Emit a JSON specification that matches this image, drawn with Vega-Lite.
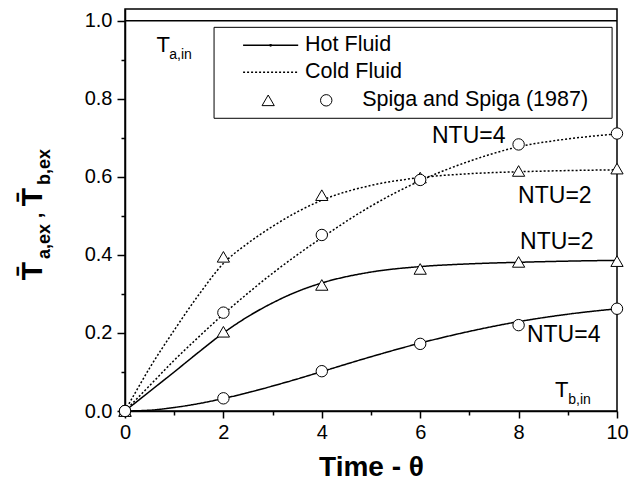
{
  "$schema": "https://vega.github.io/schema/vega-lite/v6.json",
  "autosize": {"type": "none"},
  "padding": {"left": 125, "top": 9, "right": 14, "bottom": 82},
  "width": 492,
  "height": 402,
  "background": "white",
  "data": {"values": [{}]},
  "config": {
    "font": "Liberation Sans",
    "view": {"stroke": "black", "strokeWidth": 1.5},
    "axis": {"grid": false, "labelFont": "Liberation Sans", "titleFont": "Liberation Sans", "labelColor": "black", "titleColor": "black", "domainColor": "black", "tickColor": "black", "domainWidth": 1.5, "tickWidth": 1.5}
  },
  "datasets": {
    "curves": [
      {"x": 0, "y": 0, "fluid": "Hot", "ntu": 2},
      {"x": 0.5, "y": 0.05, "fluid": "Hot", "ntu": 2},
      {"x": 1, "y": 0.1, "fluid": "Hot", "ntu": 2},
      {"x": 1.5, "y": 0.151, "fluid": "Hot", "ntu": 2},
      {"x": 2, "y": 0.2, "fluid": "Hot", "ntu": 2},
      {"x": 2.5, "y": 0.242, "fluid": "Hot", "ntu": 2},
      {"x": 3, "y": 0.277, "fluid": "Hot", "ntu": 2},
      {"x": 3.5, "y": 0.306, "fluid": "Hot", "ntu": 2},
      {"x": 4, "y": 0.328, "fluid": "Hot", "ntu": 2},
      {"x": 5, "y": 0.356, "fluid": "Hot", "ntu": 2},
      {"x": 6, "y": 0.37, "fluid": "Hot", "ntu": 2},
      {"x": 7, "y": 0.377, "fluid": "Hot", "ntu": 2},
      {"x": 8, "y": 0.381, "fluid": "Hot", "ntu": 2},
      {"x": 9, "y": 0.384, "fluid": "Hot", "ntu": 2},
      {"x": 10, "y": 0.386, "fluid": "Hot", "ntu": 2},
      {"x": 0, "y": 0, "fluid": "Hot", "ntu": 4},
      {"x": 0.5, "y": 0.002, "fluid": "Hot", "ntu": 4},
      {"x": 1, "y": 0.009, "fluid": "Hot", "ntu": 4},
      {"x": 1.5, "y": 0.019, "fluid": "Hot", "ntu": 4},
      {"x": 2, "y": 0.032, "fluid": "Hot", "ntu": 4},
      {"x": 2.5, "y": 0.047, "fluid": "Hot", "ntu": 4},
      {"x": 3, "y": 0.064, "fluid": "Hot", "ntu": 4},
      {"x": 3.5, "y": 0.082, "fluid": "Hot", "ntu": 4},
      {"x": 4, "y": 0.101, "fluid": "Hot", "ntu": 4},
      {"x": 5, "y": 0.139, "fluid": "Hot", "ntu": 4},
      {"x": 6, "y": 0.174, "fluid": "Hot", "ntu": 4},
      {"x": 7, "y": 0.204, "fluid": "Hot", "ntu": 4},
      {"x": 8, "y": 0.229, "fluid": "Hot", "ntu": 4},
      {"x": 9, "y": 0.248, "fluid": "Hot", "ntu": 4},
      {"x": 10, "y": 0.262, "fluid": "Hot", "ntu": 4},
      {"x": 0, "y": 0, "fluid": "Cold", "ntu": 2},
      {"x": 0.5, "y": 0.11, "fluid": "Cold", "ntu": 2},
      {"x": 1, "y": 0.207, "fluid": "Cold", "ntu": 2},
      {"x": 1.5, "y": 0.298, "fluid": "Cold", "ntu": 2},
      {"x": 2, "y": 0.378, "fluid": "Cold", "ntu": 2},
      {"x": 2.5, "y": 0.43, "fluid": "Cold", "ntu": 2},
      {"x": 3, "y": 0.473, "fluid": "Cold", "ntu": 2},
      {"x": 3.5, "y": 0.51, "fluid": "Cold", "ntu": 2},
      {"x": 4, "y": 0.54, "fluid": "Cold", "ntu": 2},
      {"x": 5, "y": 0.578, "fluid": "Cold", "ntu": 2},
      {"x": 6, "y": 0.598, "fluid": "Cold", "ntu": 2},
      {"x": 7, "y": 0.608, "fluid": "Cold", "ntu": 2},
      {"x": 8, "y": 0.613, "fluid": "Cold", "ntu": 2},
      {"x": 9, "y": 0.616, "fluid": "Cold", "ntu": 2},
      {"x": 10, "y": 0.618, "fluid": "Cold", "ntu": 2},
      {"x": 0, "y": 0, "fluid": "Cold", "ntu": 4},
      {"x": 0.5, "y": 0.065, "fluid": "Cold", "ntu": 4},
      {"x": 1, "y": 0.13, "fluid": "Cold", "ntu": 4},
      {"x": 1.5, "y": 0.19, "fluid": "Cold", "ntu": 4},
      {"x": 2, "y": 0.248, "fluid": "Cold", "ntu": 4},
      {"x": 2.5, "y": 0.302, "fluid": "Cold", "ntu": 4},
      {"x": 3, "y": 0.353, "fluid": "Cold", "ntu": 4},
      {"x": 3.5, "y": 0.4, "fluid": "Cold", "ntu": 4},
      {"x": 4, "y": 0.444, "fluid": "Cold", "ntu": 4},
      {"x": 5, "y": 0.525, "fluid": "Cold", "ntu": 4},
      {"x": 6, "y": 0.59, "fluid": "Cold", "ntu": 4},
      {"x": 7, "y": 0.64, "fluid": "Cold", "ntu": 4},
      {"x": 8, "y": 0.677, "fluid": "Cold", "ntu": 4},
      {"x": 9, "y": 0.697, "fluid": "Cold", "ntu": 4},
      {"x": 10, "y": 0.71, "fluid": "Cold", "ntu": 4}
    ],
    "points": [
      {"x": 0, "y": 0, "fluid": "Hot", "ntu": 2},
      {"x": 2, "y": 0.203, "fluid": "Hot", "ntu": 2},
      {"x": 4, "y": 0.323, "fluid": "Hot", "ntu": 2},
      {"x": 6, "y": 0.364, "fluid": "Hot", "ntu": 2},
      {"x": 8, "y": 0.382, "fluid": "Hot", "ntu": 2},
      {"x": 10, "y": 0.384, "fluid": "Hot", "ntu": 2},
      {"x": 0, "y": 0, "fluid": "Hot", "ntu": 4},
      {"x": 2, "y": 0.0325, "fluid": "Hot", "ntu": 4},
      {"x": 4, "y": 0.102, "fluid": "Hot", "ntu": 4},
      {"x": 6, "y": 0.172, "fluid": "Hot", "ntu": 4},
      {"x": 8, "y": 0.22, "fluid": "Hot", "ntu": 4},
      {"x": 10, "y": 0.262, "fluid": "Hot", "ntu": 4},
      {"x": 0, "y": 0, "fluid": "Cold", "ntu": 2},
      {"x": 2, "y": 0.395, "fluid": "Cold", "ntu": 2},
      {"x": 4, "y": 0.553, "fluid": "Cold", "ntu": 2},
      {"x": 6, "y": 0.598, "fluid": "Cold", "ntu": 2},
      {"x": 8, "y": 0.615, "fluid": "Cold", "ntu": 2},
      {"x": 10, "y": 0.621, "fluid": "Cold", "ntu": 2},
      {"x": 0, "y": 0, "fluid": "Cold", "ntu": 4},
      {"x": 2, "y": 0.252, "fluid": "Cold", "ntu": 4},
      {"x": 4, "y": 0.451, "fluid": "Cold", "ntu": 4},
      {"x": 6, "y": 0.592, "fluid": "Cold", "ntu": 4},
      {"x": 8, "y": 0.683, "fluid": "Cold", "ntu": 4},
      {"x": 10, "y": 0.711, "fluid": "Cold", "ntu": 4}
    ]
  },
  "layer": [
    {
      "data": {"name": "curves"},
      "mark": {"type": "line", "interpolate": "monotone", "color": "black", "strokeWidth": 1.5},
      "encoding": {
        "x": {
          "field": "x", "type": "quantitative",
          "scale": {"domain": [0, 10], "nice": false, "zero": false},
          "axis": {
            "values": [0, 1, 2, 3, 4, 5, 6, 7, 8, 9, 10],
            "labelExpr": "datum.value % 2 === 0 ? datum.label : ''",
            "tickSize": {"condition": {"test": "datum.value % 2 === 0", "value": 7}, "value": 4},
            "labelFontSize": 20, "labelPadding": 4, "labelFlush": false, "labelOverlap": false,
            "title": "Time - θ", "titleFontSize": 28, "titleFontWeight": "bold", "titlePadding": 11
          }
        },
        "y": {
          "field": "y", "type": "quantitative",
          "scale": {"domain": [0, 1.03], "nice": false, "zero": false},
          "axis": {
            "values": [0, 0.1, 0.2, 0.3, 0.4, 0.5, 0.6, 0.7, 0.8, 0.9, 1.0],
            "format": ".1f",
            "labelExpr": "round(datum.value * 10) % 2 === 0 ? datum.label : ''",
            "tickSize": {"condition": {"test": "round(datum.value * 10) % 2 === 0", "value": 8}, "value": 4},
            "labelFontSize": 20, "labelPadding": 5, "labelFlush": false, "labelOverlap": false,
            "title": null
          }
        },
        "detail": {"field": "ntu", "type": "nominal"},
        "strokeDash": {
          "field": "fluid", "type": "nominal",
          "scale": {"domain": ["Hot", "Cold"], "range": [[1, 0], [2, 2]]},
          "legend": null
        }
      }
    },
    {
      "mark": {"type": "rule", "color": "black", "strokeWidth": 1.5},
      "encoding": {
        "x": {"datum": 0, "type": "quantitative"},
        "x2": {"datum": 10},
        "y": {"datum": 1, "type": "quantitative"}
      }
    },
    {
      "data": {"name": "points"},
      "mark": {"type": "point", "filled": true, "fill": "white", "stroke": "black", "strokeWidth": 1, "opacity": 1},
      "encoding": {
        "x": {"field": "x", "type": "quantitative"},
        "y": {"field": "y", "type": "quantitative"},
        "shape": {"field": "ntu", "type": "nominal", "scale": {"domain": [2, 4], "range": ["triangle-up", "circle"]}, "legend": null},
        "size": {"field": "ntu", "type": "nominal", "scale": {"domain": [2, 4], "range": [150, 130]}, "legend": null}
      }
    },
    {
      "mark": {"type": "rect", "fill": "white", "stroke": "black", "strokeWidth": 1},
      "encoding": {
        "x": {"datum": 1.81, "type": "quantitative"},
        "x2": {"datum": 9.9},
        "y": {"datum": 0.983, "type": "quantitative"},
        "y2": {"datum": 0.75}
      }
    },
    {
      "mark": {"type": "rule", "color": "black", "strokeWidth": 1.5},
      "encoding": {
        "x": {"datum": 2.4, "type": "quantitative"},
        "x2": {"datum": 3.52},
        "y": {"datum": 0.937, "type": "quantitative"}
      }
    },
    {
      "mark": {"type": "point", "filled": true, "color": "black", "size": 8, "opacity": 1},
      "encoding": {
        "x": {"datum": 2.96, "type": "quantitative"},
        "y": {"datum": 0.937, "type": "quantitative"}
      }
    },
    {
      "mark": {"type": "rule", "color": "black", "strokeWidth": 1.5, "strokeDash": [2, 2]},
      "encoding": {
        "x": {"datum": 2.4, "type": "quantitative"},
        "x2": {"datum": 3.52},
        "y": {"datum": 0.868, "type": "quantitative"}
      }
    },
    {
      "mark": {"type": "point", "shape": "triangle-up", "size": 150, "filled": true, "fill": "white", "stroke": "black", "strokeWidth": 1, "opacity": 1},
      "encoding": {
        "x": {"datum": 2.91, "type": "quantitative"},
        "y": {"datum": 0.796, "type": "quantitative"}
      }
    },
    {
      "mark": {"type": "point", "shape": "circle", "size": 130, "filled": true, "fill": "white", "stroke": "black", "strokeWidth": 1, "opacity": 1},
      "encoding": {
        "x": {"datum": 4.09, "type": "quantitative"},
        "y": {"datum": 0.796, "type": "quantitative"}
      }
    },
    {
      "mark": {"type": "text", "text": "Hot Fluid", "fontSize": 21.5, "align": "left", "baseline": "middle", "color": "black"},
      "encoding": {"x": {"datum": 3.66, "type": "quantitative"}, "y": {"datum": 0.937, "type": "quantitative"}}
    },
    {
      "mark": {"type": "text", "text": "Cold Fluid", "fontSize": 21.5, "align": "left", "baseline": "middle", "color": "black"},
      "encoding": {"x": {"datum": 3.66, "type": "quantitative"}, "y": {"datum": 0.868, "type": "quantitative"}}
    },
    {
      "mark": {"type": "text", "text": "Spiga and Spiga (1987)", "fontSize": 21.5, "align": "left", "baseline": "middle", "color": "black"},
      "encoding": {"x": {"datum": 4.82, "type": "quantitative"}, "y": {"datum": 0.796, "type": "quantitative"}}
    },
    {
      "mark": {"type": "text", "text": "T", "fontSize": 22, "align": "left", "baseline": "alphabetic", "color": "black"},
      "encoding": {"x": {"datum": 0.64, "type": "quantitative"}, "y": {"datum": 0.919, "type": "quantitative"}}
    },
    {
      "mark": {"type": "text", "text": "a,in", "fontSize": 14, "align": "left", "baseline": "alphabetic", "color": "black"},
      "encoding": {"x": {"datum": 0.9, "type": "quantitative"}, "y": {"datum": 0.902, "type": "quantitative"}}
    },
    {
      "mark": {"type": "text", "text": "T", "fontSize": 22, "align": "left", "baseline": "alphabetic", "color": "black"},
      "encoding": {"x": {"datum": 8.74, "type": "quantitative"}, "y": {"datum": 0.036, "type": "quantitative"}}
    },
    {
      "mark": {"type": "text", "text": "b,in", "fontSize": 14, "align": "left", "baseline": "alphabetic", "color": "black"},
      "encoding": {"x": {"datum": 9.01, "type": "quantitative"}, "y": {"datum": 0.019, "type": "quantitative"}}
    },
    {
      "mark": {"type": "text", "text": "NTU=4", "fontSize": 23, "align": "left", "baseline": "alphabetic", "color": "black"},
      "encoding": {"x": {"datum": 6.24, "type": "quantitative"}, "y": {"datum": 0.686, "type": "quantitative"}}
    },
    {
      "mark": {"type": "text", "text": "NTU=2", "fontSize": 23, "align": "left", "baseline": "alphabetic", "color": "black"},
      "encoding": {"x": {"datum": 7.99, "type": "quantitative"}, "y": {"datum": 0.533, "type": "quantitative"}}
    },
    {
      "mark": {"type": "text", "text": "NTU=2", "fontSize": 23, "align": "left", "baseline": "alphabetic", "color": "black"},
      "encoding": {"x": {"datum": 8.03, "type": "quantitative"}, "y": {"datum": 0.415, "type": "quantitative"}}
    },
    {
      "mark": {"type": "text", "text": "NTU=4", "fontSize": 23, "align": "left", "baseline": "alphabetic", "color": "black"},
      "encoding": {"x": {"datum": 8.17, "type": "quantitative"}, "y": {"datum": 0.178, "type": "quantitative"}}
    },
    {
      "mark": {"type": "text", "text": "T̄", "fontSize": 30, "fontWeight": "bold", "angle": 270, "align": "left", "baseline": "alphabetic", "color": "black"},
      "encoding": {"x": {"datum": -1.687, "type": "quantitative"}, "y": {"datum": 0.335, "type": "quantitative"}}
    },
    {
      "mark": {"type": "text", "text": "a,ex", "fontSize": 18, "fontWeight": "bold", "angle": 270, "align": "left", "baseline": "alphabetic", "color": "black"},
      "encoding": {"x": {"datum": -1.53, "type": "quantitative"}, "y": {"datum": 0.3895, "type": "quantitative"}}
    },
    {
      "mark": {"type": "text", "text": ",", "fontSize": 20, "fontWeight": "bold", "angle": 270, "align": "left", "baseline": "alphabetic", "color": "black"},
      "encoding": {"x": {"datum": -1.687, "type": "quantitative"}, "y": {"datum": 0.494, "type": "quantitative"}}
    },
    {
      "mark": {"type": "text", "text": "T̄", "fontSize": 30, "fontWeight": "bold", "angle": 270, "align": "left", "baseline": "alphabetic", "color": "black"},
      "encoding": {"x": {"datum": -1.687, "type": "quantitative"}, "y": {"datum": 0.5245, "type": "quantitative"}}
    },
    {
      "mark": {"type": "text", "text": "b,ex", "fontSize": 18, "fontWeight": "bold", "angle": 270, "align": "left", "baseline": "alphabetic", "color": "black"},
      "encoding": {"x": {"datum": -1.53, "type": "quantitative"}, "y": {"datum": 0.579, "type": "quantitative"}}
    }
  ]
}
